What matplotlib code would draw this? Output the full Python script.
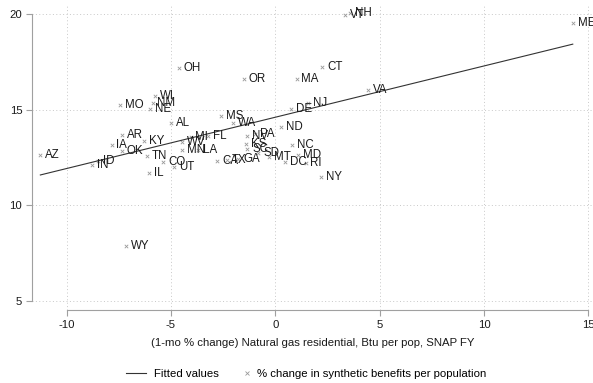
import numpy as np
import matplotlib
matplotlib.use("Agg")
import matplotlib.pyplot as plt
from matplotlib.lines import Line2D

plt.rcParams['font.family'] = ['Liberation Sans', 'DejaVu Sans']

# state labels, x = 1-mo % change natural gas, y = % change synthetic benefits
estados = ["AZ", "IN", "ID", "IA", "OK", "AR", "MO", "WY", "KY", "TN",
           "IL", "NE", "NM", "WI", "CO", "AL", "UT", "OH", "WV", "MN",
           "MI", "LA", "FL", "CA", "MS", "TX", "WA", "GA", "OR", "NV",
           "KS", "SC", "PA", "SD", "MT", "ND", "DC", "DE", "NC", "MA",
           "MD", "RI", "NJ", "NY", "CT", "VT", "NH", "VA", "ME"]
gas = [-11.26, -8.78, -8.48, -7.85, -7.36, -7.36, -7.43, -7.14, -6.31, -6.16,
       -6.04, -5.99, -5.88, -5.75, -5.37, -5.01, -4.84, -4.61, -4.48, -4.47,
       -4.06, -3.70, -3.21, -2.78, -2.59, -2.30, -2.03, -1.77, -1.52, -1.37,
       -1.42, -1.34, -0.97, -0.81, -0.30, 0.26, 0.45, 0.76, 0.80, 1.02,
       1.10, 1.45, 1.57, 2.17, 2.25, 3.36, 3.60, 4.46, 14.25]
beneficios = [12.62, 12.12, 12.33, 13.14, 12.82, 13.67, 15.22, 7.89, 13.37, 12.57,
              11.69, 15.01, 15.36, 15.70, 12.29, 14.30, 12.01, 17.19, 13.32, 12.88,
              13.59, 12.88, 13.61, 12.33, 14.65, 12.37, 14.30, 12.40, 16.60, 13.63,
              13.23, 12.94, 13.71, 12.72, 12.52, 14.07, 12.29, 15.05, 13.17, 16.60,
              12.62, 12.19, 15.35, 11.49, 17.21, 19.93, 20.07, 16.05, 19.54]

xticks = [-10, -5, 0, 5, 10, 15]
yticks = [5, 10, 15, 20]

x = np.array(gas)
y = np.array(beneficios)
b, a = np.polyfit(x, y, 1)
xs = np.array([x.min(), x.max()])

fig = plt.figure(figsize=(5.93, 3.83), dpi=100)
ax = fig.add_axes([32 / 593, 1 - 310 / 383, 561 / 593, 305 / 383])

cinza = "#a0a0a0"
escuro = "#1a1a1a"
ax.plot(xs, a + b * xs, color="#333333", linewidth=0.8, zorder=3)
ax.scatter(x, y, marker="x", s=6, color="#999999", linewidths=0.6, zorder=2)

for nome, xi, yi in zip(estados, gas, beneficios):
    ax.annotate(nome, (xi, yi), xytext=(3.5, 0), textcoords="offset points",
                va="center", ha="left", fontsize=8.3, color=escuro,
                annotation_clip=False, zorder=4)

ax.set_xlim(-11.66, 15.22)
ax.set_ylim(4.53, 20.47)
ax.set_xticks(xticks)
ax.set_yticks(yticks)
ax.set_xticklabels([str(t) for t in xticks])
ax.set_yticklabels([str(t) for t in yticks])

ax.grid(True, linestyle=(0, (1, 2.5)), color="#c8c8c8", linewidth=0.7)
ax.set_axisbelow(True)

for lado in ["top", "right"]:
    ax.spines[lado].set_visible(False)
ax.spines["left"].set_bounds(5, 20)
ax.spines["bottom"].set_bounds(-10, 15)
for lado in ["left", "bottom"]:
    ax.spines[lado].set_color(cinza)
    ax.spines[lado].set_linewidth(0.8)
ax.tick_params(colors=cinza, labelcolor=escuro, length=4, width=0.8,
               labelsize=8.2, pad=3)

ax.set_xlabel("(1-mo % change) Natural gas residential, Btu per pop, SNAP FY",
              fontsize=8.2, labelpad=6, color=escuro)

# legend in two pieces so each key gets its own length
linha = Line2D([], [], color="#333333", linewidth=0.8)
marca = Line2D([], [], marker="x", linestyle="none", color="#999999",
               markersize=2.5, markeredgewidth=0.6)
ly = 1 - 374 / 383
fig.legend([linha], ["Fitted values"], loc="center left",
           bbox_to_anchor=(126 / 593, ly), frameon=False, fontsize=8.2,
           handlelength=1.75, handletextpad=0.75, borderpad=0, borderaxespad=0)
fig.legend([marca], ["% change in synthetic benefits per population"],
           loc="center left", bbox_to_anchor=(243 / 593, ly), frameon=False,
           fontsize=8.2, handlelength=0.7, handletextpad=0.5, borderpad=0,
           borderaxespad=0)

fig.savefig("out.png", dpi=100)
